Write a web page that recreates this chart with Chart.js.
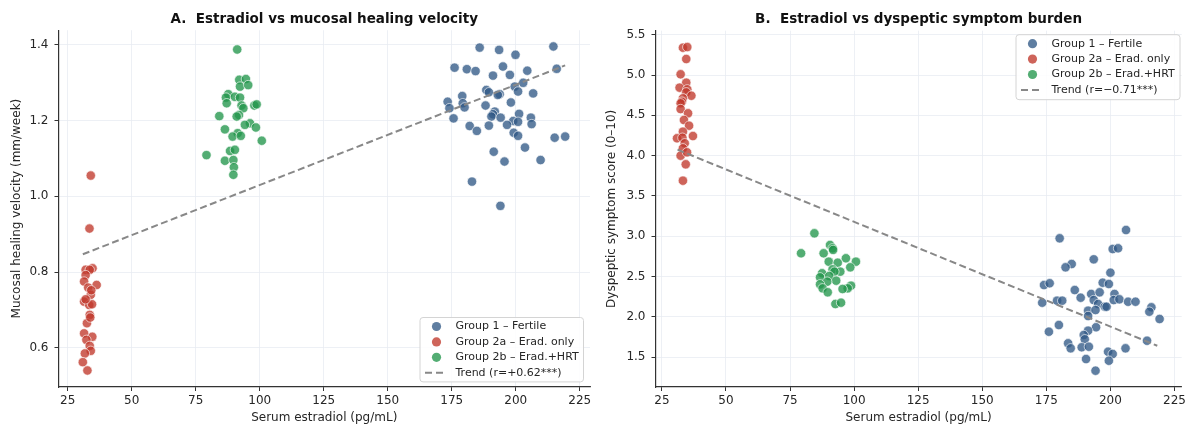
<!DOCTYPE html>
<html>
<head>
<meta charset="utf-8">
<script src="https://cdn.jsdelivr.net/npm/chart.js@4.4.1/dist/chart.umd.min.js"></script>
<style>
html, body { margin: 0; padding: 0; background: #fff; }
#wrap { position: relative; width: 1189px; height: 428px; }
.panel { position: absolute; top: 0; height: 428px; }
</style>
</head>
<body>
<div id="wrap">
  <div class="panel" style="left:0;width:596px"><canvas id="chartA"></canvas></div>
  <div class="panel" style="left:596px;width:593px"><canvas id="chartB"></canvas></div>
</div>
<script>
// 凡例ラベル
const groupLabels = ['Group 1 – Fertile', 'Group 2a – Erad. only', 'Group 2b – Erad.+HRT'];
const trendLabels = ['Trend (r=+0.62***)', 'Trend (r=−0.71***)'];

// 目盛り
const xTicks = [25, 50, 75, 100, 125, 150, 175, 200, 225];
const healTicks = [0.6, 0.8, 1.0, 1.2, 1.4];
const symptomTicks = [1.5, 2.0, 2.5, 3.0, 3.5, 4.0, 4.5, 5.0, 5.5];

// A: estradiol (pg/mL) vs healing velocity (mm/week)
const healFertile = [
  [185.9,1.393],[193.5,1.387],[199.9,1.374],[214.7,1.396],[176.1,1.340],[180.9,1.336],[184.3,1.331],
  [195.0,1.343],[204.5,1.332],[216.0,1.337],[191.1,1.319],[197.7,1.321],[202.9,1.300],[199.6,1.290],
  [188.5,1.281],[189.5,1.275],[193.7,1.270],[193.0,1.268],[200.9,1.277],[206.8,1.272],[179.1,1.265],
  [173.4,1.250],[179.3,1.246],[180.0,1.235],[174.1,1.233],[175.7,1.206],[188.2,1.240],[198.1,1.248],
  [191.8,1.224],[191.1,1.217],[190.5,1.211],[194.1,1.208],[201.3,1.218],[199.0,1.199],[200.9,1.197],
  [205.9,1.208],[206.2,1.191],[196.6,1.189],[189.5,1.187],[182.0,1.186],[184.8,1.173],[199.2,1.168],
  [200.9,1.160],[215.2,1.155],[219.3,1.158],[203.6,1.129],[191.4,1.118],[195.6,1.092],[209.7,1.096],
  [182.9,1.039],[194.0,0.975]
];
const healEradOnly = [
  [34.0,1.055],[33.5,0.915],[32.0,0.806],[34.7,0.810],[33.6,0.806],[32.0,0.792],[31.4,0.775],
  [36.3,0.766],[33.0,0.759],[34.0,0.740],[31.4,0.722],[33.4,0.713],[33.6,0.687],[32.5,0.665],
  [31.4,0.638],[34.6,0.629],[32.3,0.621],[33.6,0.605],[34.0,0.592],[31.7,0.585],[30.9,0.562],
  [32.7,0.540],[34.5,0.715],[33.8,0.680],[32.0,0.728],[34.2,0.752]
];
const healEradHrt = [
  [91.2,1.388],[92.0,1.308],[94.6,1.310],[92.3,1.290],[95.5,1.294],[87.7,1.270],[86.8,1.261],
  [90.3,1.263],[92.3,1.261],[87.1,1.246],[92.9,1.240],[93.6,1.233],[97.9,1.240],[98.8,1.243],
  [91.9,1.215],[91.0,1.211],[84.2,1.212],[96.2,1.193],[94.2,1.189],[98.5,1.182],[86.4,1.177],
  [91.4,1.167],[89.4,1.158],[92.6,1.160],[100.8,1.147],[79.2,1.109],[88.4,1.120],[90.3,1.123],
  [86.4,1.094],[89.7,1.096],[89.9,1.077],[89.7,1.057]
];
const healTrend = [[30.9,0.847],[219.3,1.346]];

// B: estradiol (pg/mL) vs dyspeptic symptom score (0-10)
const symptomFertile = [
  [206.1,3.077],[180.2,2.974],[200.9,2.841],[203.0,2.850],[193.5,2.713],[184.9,2.655],[182.5,2.614],
  [200.0,2.547],[197.0,2.423],[199.4,2.407],[174.1,2.394],[176.3,2.416],[186.1,2.332],[192.5,2.283],
  [195.8,2.304],[201.6,2.283],[188.4,2.237],[193.5,2.208],[179.2,2.200],[181.2,2.200],[201.3,2.208],
  [203.5,2.217],[206.9,2.187],[209.8,2.187],[173.4,2.175],[195.2,2.159],[197.8,2.125],[198.5,2.125],
  [216.0,2.118],[215.2,2.063],[191.3,2.076],[194.2,2.084],[191.3,2.010],[219.2,1.973],[176.0,1.815],
  [179.9,1.898],[194.4,1.870],[191.3,1.828],[189.6,1.774],[190.0,1.721],[214.3,1.703],[183.5,1.671],
  [184.5,1.609],[188.8,1.622],[191.6,1.629],[205.9,1.609],[199.1,1.567],[200.9,1.539],[199.4,1.455],
  [190.5,1.476],[194.2,1.331]
];
const symptomEradOnly = [
  [33.2,5.339],[34.9,5.347],[34.5,5.199],[32.3,5.009],[34.5,4.905],[31.9,4.843],[34.9,4.822],
  [34.5,4.785],[36.5,4.743],[33.2,4.711],[32.8,4.669],[32.3,4.649],[32.3,4.578],[35.2,4.525],
  [33.6,4.442],[35.6,4.371],[33.2,4.297],[30.9,4.215],[33.0,4.222],[37.1,4.243],[33.9,4.153],
  [33.2,4.091],[32.3,3.999],[34.8,4.041],[34.3,3.892],[33.2,3.689]
];
const symptomEradHrt = [
  [84.5,3.036],[79.3,2.788],[90.6,2.891],[91.6,2.850],[88.1,2.788],[96.8,2.726],[100.7,2.684],
  [90.1,2.684],[93.6,2.671],[98.5,2.614],[91.6,2.589],[94.6,2.560],[92.3,2.560],[87.5,2.540],
  [90.3,2.506],[86.7,2.490],[93.0,2.448],[89.5,2.436],[86.7,2.403],[98.8,2.386],[87.7,2.353],
  [97.5,2.353],[95.5,2.345],[89.7,2.304],[92.7,2.159],[94.9,2.175],[91.8,2.830]
];
const symptomTrend = [[31.1,4.074],[218.3,1.641]];

const groupColors = ['rgba(50,90,135,0.78)', 'rgba(192,57,43,0.78)', 'rgba(34,150,75,0.78)'];
const trendColor = '#888888';
const textColor = '#262626';

Chart.defaults.font.family = "'DejaVu Sans', sans-serif";
Chart.defaults.color = textColor;

// 軸の上に太字タイトルを描く
const panelTitle = {
    id: 'panelTitle',
    afterDraw(chart, args, opts) {
        const { ctx, chartArea } = chart;
        ctx.save();
        ctx.font = "bold 13.5px 'DejaVu Sans'";
        ctx.fillStyle = '#111';
        ctx.textAlign = 'center';
        ctx.textBaseline = 'alphabetic';
        ctx.fillText(opts.text, (chartArea.left + chartArea.right) / 2, opts.y);
        ctx.restore();
    }
};

// プロット内の枠付き凡例
const boxLegend = {
    id: 'boxLegend',
    afterDraw(chart, args, opts) {
        const ctx = chart.ctx;
        const { x, y, w, h } = opts;
        ctx.save();
        ctx.beginPath();
        if (ctx.roundRect) ctx.roundRect(x, y, w, h, 3); else ctx.rect(x, y, w, h);
        ctx.fillStyle = 'rgba(255,255,255,0.85)';
        ctx.fill();
        ctx.strokeStyle = '#d4d4d4';
        ctx.lineWidth = 1;
        ctx.stroke();
        ctx.font = "11px 'DejaVu Sans'";
        ctx.textBaseline = 'middle';
        ctx.textAlign = 'left';
        chart.data.datasets.forEach((ds, i) => {
            const cy = y + 9 + i * 15.4;
            if (ds.showLine) {
                ctx.beginPath();
                ctx.setLineDash([7, 4]);
                ctx.strokeStyle = ds.borderColor;
                ctx.lineWidth = 2;
                ctx.moveTo(x + 5, cy);
                ctx.lineTo(x + 26, cy);
                ctx.stroke();
                ctx.setLineDash([]);
            } else {
                ctx.beginPath();
                ctx.arc(x + 16.5, cy, 4.6, 0, Math.PI * 2);
                ctx.fillStyle = ds.backgroundColor;
                ctx.fill();
            }
            ctx.fillStyle = textColor;
            ctx.fillText(ds.label, x + 35.5, cy);
        });
        ctx.restore();
    }
};

function toPoints(pairs) {
    return pairs.map(p => ({ x: p[0], y: p[1] }));
}

function groupDataset(label, pairs, color) {
    return {
        label: label,
        data: toPoints(pairs),
        backgroundColor: color,
        borderColor: 'rgba(255,255,255,0.9)',
        borderWidth: 0.7,
        pointRadius: 4.7,
        pointHoverRadius: 4.7
    };
}

function trendDataset(label, pairs) {
    return {
        label: label,
        data: toPoints(pairs),
        showLine: true,
        borderColor: trendColor,
        borderWidth: 2,
        borderDash: [7, 3.5],
        pointRadius: 0,
        order: -1
    };
}

const gridStyle = { color: '#e9ecf2', lineWidth: 0.8, tickColor: '#333', tickLength: 4, tickWidth: 1 };
const borderStyle = { color: '#333', width: 1.2 };

/**
 * 散布図パネルを描く
 */
function renderPanel(canvasId, p) {
    const canvas = document.getElementById(canvasId);
    if (!canvas) return;
    new Chart(canvas.getContext('2d'), {
        type: 'scatter',
        data: {
            datasets: [
                groupDataset(groupLabels[0], p.fertile, groupColors[0]),
                groupDataset(groupLabels[1], p.eradOnly, groupColors[1]),
                groupDataset(groupLabels[2], p.eradHrt, groupColors[2]),
                trendDataset(p.trendLabel, p.trend)
            ]
        },
        options: {
            responsive: true,
            maintainAspectRatio: false,
            animation: false,
            layout: { padding: { top: p.top, left: 0, right: p.right, bottom: 0 } },
            plugins: {
                legend: { display: false },
                tooltip: { enabled: false },
                panelTitle: { text: p.title, y: 23 },
                boxLegend: p.legend
            },
            scales: {
                x: {
                    type: 'linear',
                    min: p.xMin,
                    max: p.xMax,
                    afterBuildTicks: s => { s.ticks = xTicks.map(v => ({ value: v })); },
                    afterFit: s => { s.height = 41; },
                    grid: gridStyle,
                    border: borderStyle,
                    ticks: { font: { size: 12 }, padding: 3, maxRotation: 0, color: textColor, callback: v => String(v) },
                    title: { display: true, text: 'Serum estradiol (pg/mL)', font: { size: 12 }, color: textColor, padding: { top: 0, bottom: 3 } }
                },
                y: {
                    type: 'linear',
                    min: p.yMin,
                    max: p.yMax,
                    afterBuildTicks: s => { s.ticks = p.yTicks.map(v => ({ value: v })); },
                    afterFit: s => { s.width = p.yWidth; },
                    grid: gridStyle,
                    border: borderStyle,
                    ticks: { font: { size: 12 }, padding: 6, color: textColor, callback: v => Number(v).toFixed(1) },
                    title: { display: true, text: p.yLabel, font: { size: 12 }, color: textColor, padding: { top: p.yTitlePad, bottom: 0 } }
                }
            }
        },
        plugins: [panelTitle, boxLegend]
    });
}

renderPanel('chartA', {
    title: 'A.  Estradiol vs mucosal healing velocity',
    yLabel: 'Mucosal healing velocity (mm/week)',
    fertile: healFertile, eradOnly: healEradOnly, eradHrt: healEradHrt,
    trend: healTrend, trendLabel: trendLabels[0],
    xMin: 21.4, xMax: 229.0, yMin: 0.4964, yMax: 1.439, yTicks: healTicks,
    top: 30.2, right: 6, yWidth: 58.5, yTitlePad: 10,
    legend: { x: 420, y: 317.5, w: 163.5, h: 64.4 }
});

renderPanel('chartB', {
    title: 'B.  Estradiol vs dyspeptic symptom burden',
    yLabel: 'Dyspeptic symptom score (0–10)',
    fertile: symptomFertile, eradOnly: symptomEradOnly, eradHrt: symptomEradHrt,
    trend: symptomTrend, trendLabel: trendLabels[1],
    xMin: 22.5, xMax: 227.8, yMin: 1.129, yMax: 5.55, yTicks: symptomTicks,
    top: 30.7, right: 6, yWidth: 59.5, yTitlePad: 9,
    legend: { x: 420, y: 34.7, w: 164, h: 65 }
});
</script>
</body>
</html>
